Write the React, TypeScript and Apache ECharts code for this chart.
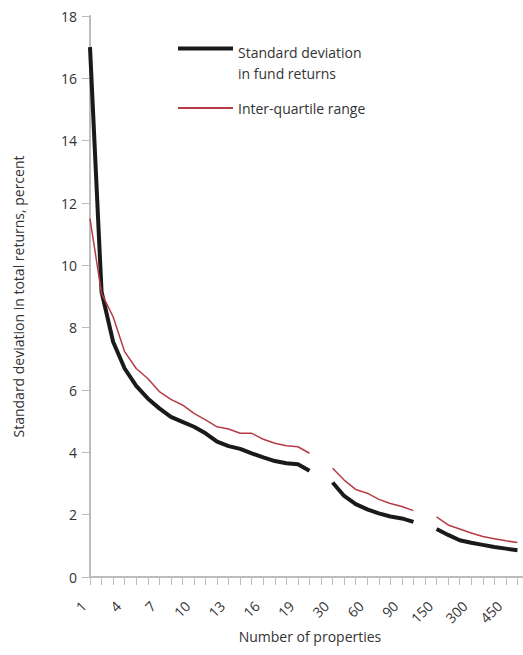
import React, { useEffect, useRef } from "react";
import * as echarts from "echarts";

const categories = [
  "1","2","3","4","5","6","7","8","9","10","11","12","13","14","15","16","17","18","19","20",
  "25","30","40","50","60","70","80","90","100","125","150","200","250","300","350","400","450","500","550",
];

const stdDev = [
  17.0, 9.15, 7.55, 6.69, 6.13, 5.73, 5.41, 5.14, 4.98, 4.82, 4.61, 4.34, 4.2, 4.11, 3.97, 3.84, 3.72, 3.65, 3.62, 3.41,
  null, 3.03, 2.6, 2.34, 2.17, 2.04, 1.94, 1.88, 1.77,
  null, 1.54, 1.35, 1.18, 1.1, 1.03, 0.96, 0.91, 0.86, null,
];

const iqr = [
  11.5, 9.1, 8.35, 7.23, 6.69, 6.37, 5.95, 5.7, 5.52, 5.25, 5.04, 4.82, 4.75, 4.61, 4.61, 4.42, 4.29, 4.21, 4.18, 3.97,
  null, 3.49, 3.11, 2.81, 2.69, 2.49, 2.36, 2.26, 2.13,
  null, 1.93, 1.67, 1.54, 1.41, 1.3, 1.23, 1.16, 1.11, null,
];

const seriesNames = ["Standard deviation\nin fund returns", "Inter-quartile range"];
const yTitle = "Standard deviation in total returns, percent";
const xTitle = "Number of properties";

const FONT = "Open Sans";
const TEXT = "#333333";
const AXIS = "#bdbdbd";
const BLACK = "#1a1a1a";
const RED = "#b73a47";

export default function App() {
  const ref = useRef<HTMLDivElement>(null);
  useEffect(() => {
    if (!ref.current) return;
    const chart = echarts.init(ref.current, null, { renderer: "svg" });
    chart.setOption({
      animation: false,
      textStyle: { fontFamily: FONT },
      grid: { left: 90, top: 16, bottom: 78, right: 6, containLabel: false, outerBoundsMode: "none" },
      graphic: [
        {
          type: "text",
          x: 310,
          y: 636,
          silent: true,
          style: {
            text: xTitle,
            fill: TEXT,
            fontSize: 14,
            fontFamily: FONT,
            align: "center",
            verticalAlign: "middle",
          },
        },
      ],
      legend: [
        {
          data: [{ name: seriesNames[0], icon: "rect" }],
          orient: "vertical",
          left: 173,
          top: 15.5,
          itemWidth: 55,
          itemHeight: 4,
          selectedMode: false,
          formatter: (name: string) =>
            "{e| }\n" + name.split("\n").map((s) => `{t|${s}}`).join("\n"),
          textStyle: {
            fontSize: 14,
            color: TEXT,
            fontFamily: FONT,
            rich: {
              e: { fontSize: 14, lineHeight: 29, fontFamily: FONT },
              t: { fontSize: 14, lineHeight: 21, color: TEXT, fontFamily: FONT },
            },
          },
        },
        {
          data: [{ name: seriesNames[1], icon: "rect" }],
          orient: "vertical",
          left: 173,
          top: 92.5,
          itemWidth: 55,
          itemHeight: 2,
          selectedMode: false,
          textStyle: { fontSize: 14, color: TEXT, fontFamily: FONT, lineHeight: 21 },
        },
      ],
      xAxis: {
        type: "category",
        data: categories,
        boundaryGap: false,
        axisLine: { show: true, lineStyle: { color: AXIS, width: 2 } },
        axisTick: { show: true, interval: 0, length: 8, lineStyle: { color: AXIS, width: 1 } },
        axisLabel: {
          interval: 2,
          rotate: 45,
          fontSize: 14,
          color: TEXT,
          margin: 20,
          padding: [0, 9, 0, 0],
          fontFamily: FONT,
        },
        splitLine: { show: false },
      },
      yAxis: {
        type: "value",
        min: 0,
        max: 18,
        interval: 2,
        name: yTitle,
        nameLocation: "middle",
        nameGap: 65,
        nameMoveOverlap: false,
        nameRotate: 90,
        nameTextStyle: { fontSize: 14, color: TEXT, fontFamily: FONT },
        axisLine: { show: true, lineStyle: { color: AXIS, width: 2 } },
        axisTick: { show: true, length: 8, lineStyle: { color: AXIS, width: 1 } },
        axisLabel: { fontSize: 14, color: TEXT, margin: 13, fontFamily: FONT },
        splitLine: { show: false },
      },
      series: [
        {
          name: seriesNames[0],
          type: "line",
          data: stdDev,
          symbol: "none",
          connectNulls: false,
          lineStyle: { color: BLACK, width: 4, join: "round" },
          itemStyle: { color: BLACK },
        },
        {
          name: seriesNames[1],
          type: "line",
          data: iqr,
          symbol: "none",
          connectNulls: false,
          lineStyle: { color: RED, width: 1.5 },
          itemStyle: { color: RED },
        },
      ],
    });
    return () => chart.dispose();
  }, []);
  return (
    <div style={{ position: "fixed", left: 0, top: 0, width: 523, height: 655, overflow: "hidden", background: "#fff" }}>
      <div ref={ref} style={{ width: 535, height: 655 }} />
    </div>
  );
}
